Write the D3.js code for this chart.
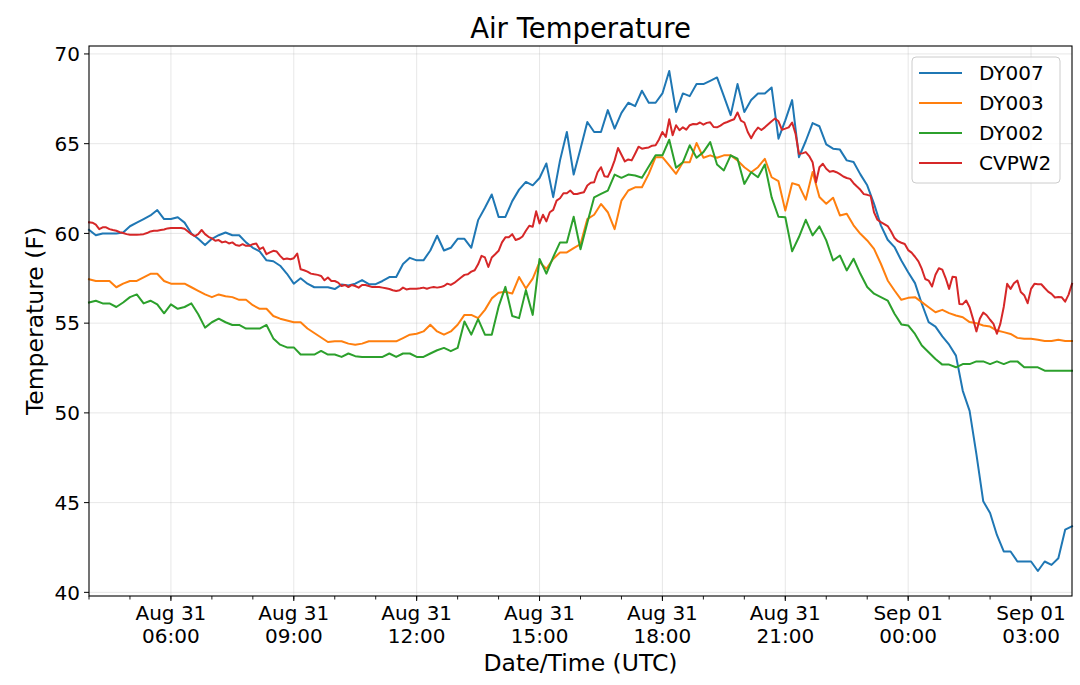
<!DOCTYPE html>
<html>
<head>
<meta charset="utf-8">
<script src="https://cdn.jsdelivr.net/npm/d3@7"></script>
<style>
  html, body { margin: 0; padding: 0; background: #fff; }
  svg { display: block; font-family: "DejaVu Sans", sans-serif; }
</style>
</head>
<body>
<svg id="chart" width="1080" height="685"></svg>
<script>
// Aug 31 04:00 UTC -> Sep 01 04:00 UTC
const startTime = Date.UTC(2019, 7, 31, 4, 0);
const endTime = Date.UTC(2019, 8, 1, 4, 0);

const seriesNames = ["DY007", "DY003", "DY002", "CVPW2"];
const seriesColors = ["#1f77b4", "#ff7f0e", "#2ca02c", "#d62728"];
// minutes between samples (the CVPW2 station reports every 5 min)
const seriesSteps = [10, 10, 10, 5];

// one row per hour
const dy007 = [
  60.2, 59.9, 60.0, 60.0, 60.0, 60.05,
  60.4, 60.6, 60.8, 61.0, 61.3, 60.8,
  60.8, 60.9, 60.6, 60.0, 59.7, 59.35,
  59.7, 59.9, 60.05, 59.9, 59.9, 59.5,
  59.2, 59.0, 58.5, 58.45, 58.2, 57.75,
  57.2, 57.5, 57.2, 57.0, 57.0, 57.0,
  56.9, 57.15, 57.1, 57.2, 57.4, 57.17,
  57.17, 57.35, 57.57, 57.57, 58.3, 58.64,
  58.5, 58.5, 59.05, 59.87, 59.05, 59.2,
  59.7, 59.7, 59.2, 60.74, 61.43, 62.17,
  60.92, 60.92, 61.8, 62.44, 62.87, 62.68,
  63.09, 63.9, 62.02, 64.07, 65.65, 63.28,
  64.72, 66.21, 65.65, 65.65, 66.87, 65.84,
  66.72, 67.28, 67.09, 67.95, 67.28, 67.28,
  67.8, 69.05, 66.77, 67.8, 67.65, 68.32,
  68.32, 68.5, 68.69, 67.65, 66.59, 68.32,
  66.77, 67.43, 67.8, 67.8, 68.13, 65.28,
  66.3, 67.43, 64.25, 65.15, 66.15, 65.97,
  64.96, 64.72, 64.67, 64.07, 63.98, 63.29,
  62.68, 61.65, 60.45, 59.65, 59.24, 58.49,
  57.84, 57.23, 56.08, 55.06, 54.81, 54.26,
  53.8, 53.19, 51.23, 50.11, 47.69, 45.07,
  44.42, 43.2, 42.28, 42.28, 41.72, 41.72,
  41.72, 41.19, 41.72, 41.53, 41.9, 43.49,
  43.68
];

const dy003 = [
  57.45, 57.35, 57.35, 57.35, 57.0, 57.2,
  57.35, 57.35, 57.55, 57.75, 57.75, 57.35,
  57.2, 57.2, 57.2, 57.0, 56.8, 56.6,
  56.45, 56.6, 56.5, 56.45, 56.3, 56.3,
  56.0, 55.8, 55.8, 55.4, 55.25, 55.15,
  55.05, 55.05, 54.7, 54.45, 54.2, 53.95,
  53.99, 53.99, 53.86, 53.8, 53.86, 53.99,
  53.99, 53.99, 53.99, 53.99, 54.17, 54.36,
  54.41, 54.54, 54.91, 54.54, 54.36, 54.54,
  54.91, 55.46, 55.46, 55.28, 55.74, 56.38,
  56.69, 56.75, 56.65, 57.57, 56.93, 57.48,
  58.4, 58.03, 58.58, 58.94, 58.94, 59.18,
  59.4, 60.8, 61.04, 61.64, 61.18, 60.24,
  61.83, 62.39, 62.57, 62.57, 63.32, 64.25,
  64.25, 63.79, 63.32, 63.97, 63.97, 65.04,
  64.22, 64.35, 64.22, 64.35, 64.35, 64.07,
  63.69, 63.41, 63.69, 64.16, 63.13, 62.91,
  61.27, 62.8, 62.68, 61.88, 63.42, 62.03,
  61.65, 61.99, 61.0, 61.1, 60.45, 59.98,
  59.61, 59.14, 58.31, 57.38, 56.82, 56.3,
  56.41, 56.45, 56.17, 55.89, 55.61, 55.74,
  55.56, 55.43, 55.33, 55.06, 55.0, 54.87,
  54.81, 54.59, 54.5, 54.4, 54.18, 54.13,
  54.13, 54.07, 54.0, 54.0, 54.07, 54.0,
  54.0
];

const dy002 = [
  56.15, 56.25, 56.1, 56.1, 55.9, 56.15,
  56.45, 56.6, 56.1, 56.25, 56.05, 55.55,
  56.05, 55.8, 55.9, 56.1, 55.5, 54.75,
  55.05, 55.25, 55.05, 54.9, 54.9, 54.7,
  54.7, 54.7, 54.9, 54.15, 53.8, 53.65,
  53.65, 53.25, 53.25, 53.25, 53.45, 53.25,
  53.25, 53.12, 53.31, 53.16, 53.12, 53.12,
  53.12, 53.12, 53.31, 53.12, 53.31, 53.31,
  53.12, 53.12, 53.31, 53.49, 53.62, 53.44,
  53.62, 55.09, 54.36, 55.22, 54.36, 54.36,
  55.92, 57.02, 55.4, 55.28, 56.84, 55.46,
  58.58, 57.76, 58.68, 59.5, 59.5, 60.93,
  59.12, 60.6, 62.01, 62.2, 62.39, 63.28,
  63.1, 63.28, 63.23, 63.1, 63.73, 64.35,
  64.35, 65.22, 63.66, 63.97, 64.91, 64.22,
  64.53, 65.09, 63.84, 63.51, 64.35, 64.16,
  62.76, 63.41, 63.13, 63.84, 62.01, 60.93,
  60.9, 59.0, 59.8, 60.76, 59.89, 60.39,
  59.61, 58.49, 58.77, 57.94, 58.59, 57.75,
  57.01, 56.64, 56.45, 56.26, 55.52, 54.93,
  54.87, 54.4, 53.75, 53.38, 53.0, 52.69,
  52.69, 52.54, 52.72, 52.72, 52.87, 52.87,
  52.72, 52.87, 52.72, 52.87, 52.87, 52.54,
  52.54, 52.54, 52.35, 52.35, 52.35, 52.35,
  52.35
];

const cvpw2 = [
  60.62, 60.6, 60.49, 60.24, 60.34, 60.34, 60.24, 60.19, 60.15, 60.07, 60.02, 59.96,
  59.93, 59.93, 59.93, 59.94, 59.96, 60.02, 60.11, 60.15, 60.15, 60.19, 60.22, 60.28,
  60.3, 60.3, 60.3, 60.3, 60.26, 60.11, 59.96, 59.85, 59.96, 60.19, 59.96, 59.81,
  59.72, 59.59, 59.63, 59.5, 59.55, 59.44, 59.5, 59.35, 59.31, 59.4, 59.31, 59.31,
  59.4, 59.44, 59.12, 59.22, 58.84, 58.94, 59.03, 58.99, 58.75, 58.56, 58.6, 58.56,
  58.62, 58.88, 58.0, 57.95, 57.87, 57.76, 57.72, 57.69, 57.63, 57.39, 57.54, 57.35,
  57.35, 57.26, 57.07, 57.13, 57.01, 57.13, 57.07, 56.98, 57.13, 57.13, 57.07, 57.01,
  57.01, 57.01, 56.98, 56.94, 56.9, 56.83, 56.79, 56.83, 56.98, 56.88, 56.92, 56.92,
  56.92, 56.94, 56.98, 56.92, 56.98, 57.01, 56.98, 57.01, 57.07, 57.2, 57.13, 57.24,
  57.39, 57.54, 57.69, 57.72, 57.87, 57.95, 58.28, 58.75, 58.66, 58.13, 58.66, 58.84,
  59.03, 59.5, 59.78, 59.79, 59.96, 59.63, 59.7, 59.83, 60.15, 60.43, 60.37, 61.23,
  60.56, 61.04, 60.67, 61.18, 61.31, 61.83, 61.96, 62.24, 62.24, 62.39, 62.2, 62.2,
  62.25, 62.29, 62.67, 62.82, 62.85, 63.41, 63.69, 63.19, 63.15, 63.56, 64.07, 64.76,
  64.38, 64.01, 64.12, 64.07, 64.44, 64.83, 64.72, 64.76, 64.79, 64.89, 64.91, 65.24,
  65.65, 65.37, 66.36, 65.47, 66.03, 65.75, 65.91, 65.78, 66.03, 66.1, 66.08, 66.18,
  66.06, 66.16, 66.19, 65.93, 65.91, 66.01, 66.14, 66.21, 66.29, 66.36, 66.74, 66.29,
  66.18, 65.65, 65.3, 65.65, 65.9, 65.76, 65.91, 66.08, 66.25, 66.4, 66.25, 65.78,
  65.84, 65.91, 66.18, 65.56, 64.44, 64.46, 64.53, 64.31, 63.97, 62.85, 63.69, 63.88,
  63.6, 63.44, 63.48, 63.41, 63.3, 63.17, 63.09, 63.04, 62.8, 62.61, 62.43, 62.19,
  62.15, 62.09, 61.17, 60.76, 60.63, 60.52, 60.41, 60.11, 59.74, 59.57, 59.48, 59.41,
  59.07, 58.93, 58.7, 58.44, 58.02, 57.46, 57.37, 57.04, 57.7, 58.06, 57.98, 57.5,
  56.91, 57.59, 57.56, 56.07, 56.06, 56.26, 55.89, 55.24, 54.54, 55.24, 55.59, 55.44,
  55.19, 54.96, 54.41, 54.96, 55.9, 57.19, 56.91, 57.22, 57.37, 56.74, 56.56, 56.11,
  56.91, 57.19, 57.17, 57.17, 56.96, 56.76, 56.63, 56.43, 56.46, 56.44, 56.2, 56.59,
  57.19
];

const yTickValues = [40, 45, 50, 55, 60, 65, 70];

const seriesValues = [dy007, dy003, dy002, cvpw2];

const width = 1080, height = 685;
const margin = { top: 46, right: 8, bottom: 89, left: 89 };

const svg = d3.select("#chart");

const series = seriesNames.map((name, k) => ({
	name,
	color: seriesColors[k],
	points: seriesValues[k].map((v, i) => ({
		t: new Date(startTime + i * seriesSteps[k] * 60000),
		v,
	})),
}));

const x = d3.scaleUtc()
	.domain([new Date(startTime), new Date(endTime)])
	.range([margin.left, width - margin.right]);

// matplotlib style 5% padding on the value axis
const [vmin, vmax] = d3.extent(seriesValues.flat());
const pad = (vmax - vmin) * 0.05;
const y = d3.scaleLinear()
	.domain([vmin - pad, vmax + pad])
	.range([height - margin.bottom, margin.top]);

const plotL = margin.left, plotR = width - margin.right;
const plotT = margin.top, plotB = height - margin.bottom;

const majorTicks = d3.utcHour.every(3).range(x.domain()[0], x.domain()[1]);
const minorTicks = d3.utcHour.every(1).range(x.domain()[0], x.domain()[1]);

// grid
const grid = svg.append("g").attr("stroke", "#b0b0b0").attr("stroke-opacity", 0.3).attr("stroke-width", 1);
grid.selectAll(".vx").data(majorTicks).join("line")
	.attr("x1", d => x(d)).attr("x2", d => x(d))
	.attr("y1", plotT).attr("y2", plotB);
grid.selectAll(".hy").data(yTickValues).join("line")
	.attr("x1", plotL).attr("x2", plotR)
	.attr("y1", d => y(d)).attr("y2", d => y(d));

// lines
const line = d3.line().x(d => x(d.t)).y(d => y(d.v));
svg.append("g")
	.selectAll("path").data(series).join("path")
	.attr("fill", "none")
	.attr("stroke", d => d.color)
	.attr("stroke-width", 2)
	.attr("stroke-linejoin", "round")
	.attr("stroke-linecap", "square")
	.attr("d", d => line(d.points));

// frame
svg.append("rect")
	.attr("x", plotL).attr("y", plotT)
	.attr("width", plotR - plotL).attr("height", plotB - plotT)
	.attr("fill", "none").attr("stroke", "#000").attr("stroke-width", 1.1);

// x axis
const fmtDay = d3.utcFormat("%b %d");
const fmtHour = d3.utcFormat("%H:%M");
const xAxis = svg.append("g").attr("transform", `translate(0,${plotB})`);
xAxis.selectAll(".minor").data(minorTicks).join("line")
	.attr("x1", d => x(d)).attr("x2", d => x(d))
	.attr("y1", 0).attr("y2", 3.5)
	.attr("stroke", "#000").attr("stroke-width", 0.9);
xAxis.selectAll(".major").data(majorTicks).join("line")
	.attr("x1", d => x(d)).attr("x2", d => x(d))
	.attr("y1", 0).attr("y2", 5)
	.attr("stroke", "#000").attr("stroke-width", 1);
const xLabels = xAxis.selectAll("text").data(majorTicks).join("text")
	.attr("text-anchor", "middle")
	.attr("font-size", 20)
	.attr("fill", "#000");
xLabels.append("tspan").attr("x", d => x(d)).attr("y", 24).text(d => fmtDay(d));
xLabels.append("tspan").attr("x", d => x(d)).attr("y", 47).text(d => fmtHour(d));

// y axis
const yAxis = svg.append("g");
yAxis.selectAll("line").data(yTickValues).join("line")
	.attr("x1", plotL - 5).attr("x2", plotL)
	.attr("y1", d => y(d)).attr("y2", d => y(d))
	.attr("stroke", "#000").attr("stroke-width", 1);
yAxis.selectAll("text").data(yTickValues).join("text")
	.attr("x", plotL - 9).attr("y", d => y(d))
	.attr("dy", "0.36em")
	.attr("text-anchor", "end")
	.attr("font-size", 20)
	.text(d => d);

// labels
svg.append("text")
	.attr("x", (plotL + plotR) / 2).attr("y", 38)
	.attr("text-anchor", "middle").attr("font-size", 27.5)
	.text("Air Temperature");
svg.append("text")
	.attr("x", (plotL + plotR) / 2).attr("y", 671)
	.attr("text-anchor", "middle").attr("font-size", 23.5)
	.text("Date/Time (UTC)");
svg.append("text")
	.attr("transform", `translate(43,${(plotT + plotB) / 2}) rotate(-90)`)
	.attr("text-anchor", "middle").attr("font-size", 23.5)
	.text("Temperature (F)");

// legend
const legend = svg.append("g").attr("transform", "translate(912,57)");
legend.append("rect")
	.attr("width", 148).attr("height", 126).attr("rx", 4)
	.attr("fill", "#fff").attr("fill-opacity", 0.8)
	.attr("stroke", "#cccccc").attr("stroke-width", 1);
const items = legend.selectAll(".item").data(series).join("g")
	.attr("transform", (d, i) => `translate(0,${16 + i * 30})`);
items.append("line")
	.attr("x1", 7).attr("x2", 50)
	.attr("stroke", d => d.color).attr("stroke-width", 2);
items.append("text")
	.attr("x", 67).attr("dy", "0.36em")
	.attr("font-size", 20)
	.text(d => d.name);
</script>
</body>
</html>
